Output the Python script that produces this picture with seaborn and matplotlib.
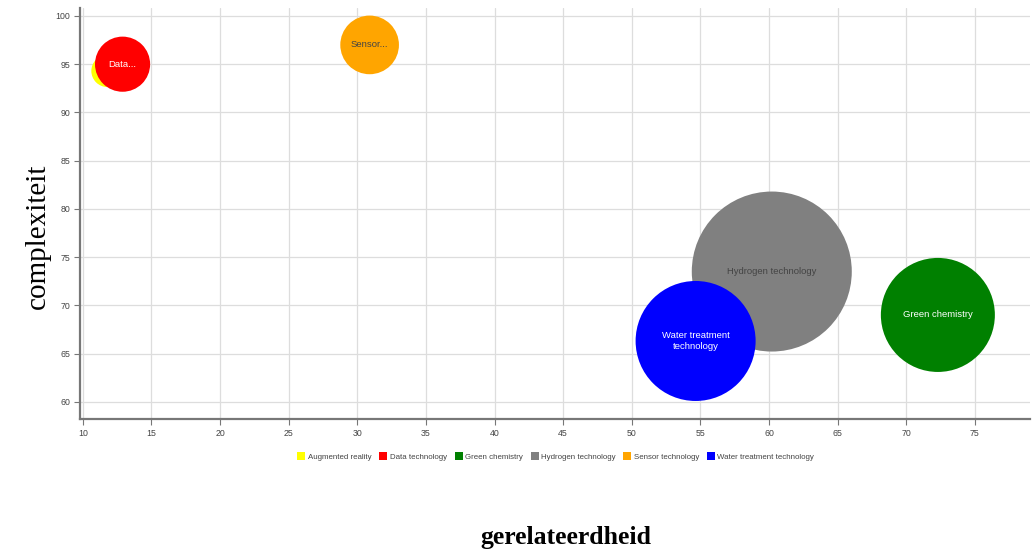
import matplotlib
matplotlib.use("Agg")
import matplotlib.pyplot as plt
import seaborn as sns
import pandas as pd
from matplotlib.lines import Line2D

names = ["Augmented reality", "Data technology", "Green chemistry",
         "Hydrogen technology", "Sensor technology", "Water treatment technology"]
labels = ["", "Data...", "Green chemistry", "Hydrogen technology", "Sensor...",
          "Water treatment\ntechnology"]
gerelateerdheid = [11.8, 12.9, 72.3, 60.2, 30.9, 54.65]
complexiteit = [94.3, 95.0, 69.0, 73.5, 97.0, 66.3]
bubble = [2.6, 7.6, 32.5, 64.0, 8.6, 36.0]
colors = ["#ffff00", "#ff0000", "#008000", "#808080", "#ffa500", "#0000ff"]
label_colors = ["#333333", "#ffffff", "#ffffff", "#444444", "#444444", "#ffffff"]

df = pd.DataFrame({"name": names, "x": gerelateerdheid, "y": complexiteit, "b": bubble})

sns.set_theme(style="white")
plt.rcParams["font.family"] = ["Liberation Sans", "DejaVu Sans"]

fig = plt.figure(figsize=(10.35, 5.5), dpi=100)
ax = fig.add_axes([0.0773, 0.238, 0.9177, 0.747])

# bubble value -> marker area (pt^2); radius px ~ 10*sqrt(b)
s_vals = [(2 * 10 * (v ** 0.5) * 0.72) ** 2 for v in bubble]
sns.scatterplot(data=df, x="x", y="y", hue="name", palette=dict(zip(names, colors)),
                size="b", sizes=(min(s_vals), max(s_vals)), size_norm=(min(bubble), max(bubble)),
                legend=False, linewidth=0, alpha=1, ax=ax, zorder=3)

for xi, yi, lab, lc in zip(gerelateerdheid, complexiteit, labels, label_colors):
    if lab:
        ax.text(xi, yi, lab, ha="center", va="center", fontsize=6.8, color=lc, zorder=4,
                linespacing=1.3)

ax.set_xlim(9.8, 79)
ax.set_ylim(58.2, 100.8)
ax.set_xticks(range(10, 80, 5))
ax.set_yticks(range(60, 101, 5))
ax.grid(True, color="#dddddd", linewidth=0.9, zorder=0)
ax.set_axisbelow(True)
for sp in ["top", "right"]:
    ax.spines[sp].set_visible(False)
for sp in ["left", "bottom"]:
    ax.spines[sp].set_color("#777777")
    ax.spines[sp].set_linewidth(1.6)
ax.tick_params(axis="both", which="both", direction="out", length=4, width=0.8,
               color="#777777", labelsize=6.3, labelcolor="#444444", pad=3,
               bottom=True, left=True)
ax.set_xlabel("")
ax.set_ylabel("")

fig.text(0.037, 0.57, "complexiteit", rotation=90, ha="center", va="center",
         fontsize=21, family=["Liberation Serif", "DejaVu Serif"], color="#000000")
fig.text(0.547, 0.022, "gerelateerdheid", ha="center", va="center",
         fontsize=18.5, fontweight="bold", family=["Liberation Serif", "DejaVu Serif"], color="#000000")

handles = [Line2D([0], [0], marker="s", linestyle="", markerfacecolor=c, markeredgewidth=0,
                  markersize=6.3) for c in colors]
fig.legend(handles, names, loc="center", bbox_to_anchor=(0.537, 0.169), ncol=6, frameon=False,
           fontsize=5.7, handletextpad=0.3, columnspacing=1.0, handlelength=1.0,
           labelcolor="#444444")

fig.savefig("out.png", dpi=100)
